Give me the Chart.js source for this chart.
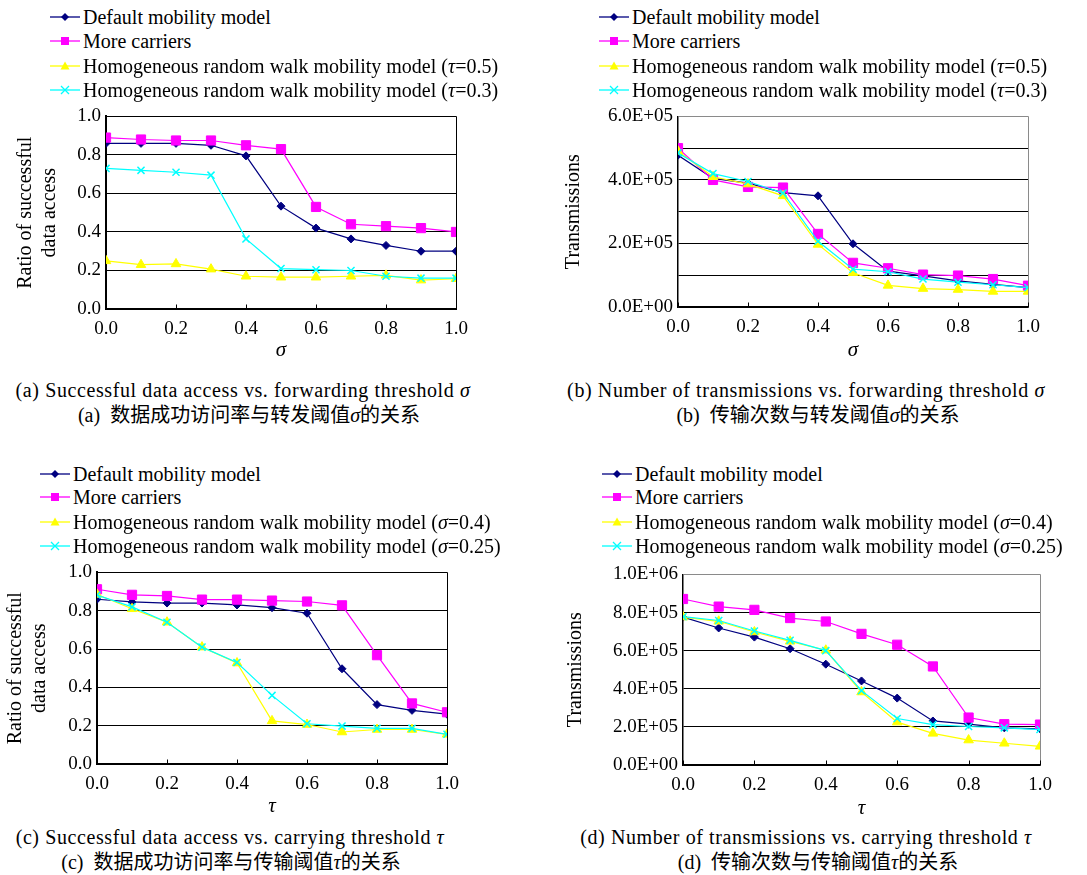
<!DOCTYPE html>
<html lang="en">
<head>
    <meta charset="UTF-8">
    <title>Forwarding and carrying thresholds</title>
    <script src="https://cdn.jsdelivr.net/npm/chart.js"></script>
    <style>
        body { margin: 0; background: #fff; font-family: "Liberation Serif", "Noto Sans CJK SC", serif; color: #000; }
        #page { position: relative; width: 1087px; height: 875px; overflow: hidden; }
        .box { position: absolute; }
        .legend-row { position: absolute; height: 24px; line-height: 24px; font-size: 20px; white-space: nowrap; display: flex; align-items: center; }
        .legend-row svg { margin-right: 3px; }
        .cap { position: absolute; font-size: 20px; letter-spacing: 0.6px; white-space: nowrap; transform: translateX(-50%); line-height: 22px; }
        .cap.zh { font-size: 20px; letter-spacing: 0; }
        i.g { font-family: "Liberation Serif", serif; }
    </style>
</head>
<body>
<div id="page">
    <div class="box" style="left:0;top:100px;width:480px;height:265px"><canvas id="chartA"></canvas></div>
    <div class="box" style="left:545px;top:100px;width:542px;height:265px"><canvas id="chartB"></canvas></div>
    <div class="box" style="left:0;top:556px;width:480px;height:265px"><canvas id="chartC"></canvas></div>
    <div class="box" style="left:545px;top:558px;width:542px;height:265px"><canvas id="chartD"></canvas></div>

    <div class="cap" style="left:243px;top:379px">(a) Successful data access vs. forwarding threshold <i class="g">σ</i></div>
    <div class="cap zh" style="left:249px;top:404px">(a)&nbsp; 数据成功访问率与转发阈值<i class="g">σ</i>的关系</div>
    <div class="cap" style="left:806px;top:379px">(b) Number of transmissions vs. forwarding threshold <i class="g">σ</i></div>
    <div class="cap zh" style="left:818px;top:404px">(b)&nbsp; 传输次数与转发阈值<i class="g">σ</i>的关系</div>
    <div class="cap" style="left:230px;top:826px">(c) Successful data access vs. carrying threshold <i class="g">τ</i></div>
    <div class="cap zh" style="left:231px;top:851px">(c)&nbsp; 数据成功访问率与传输阈值<i class="g">τ</i>的关系</div>
    <div class="cap" style="left:806px;top:826px">(d) Number of transmissions vs. carrying threshold <i class="g">τ</i></div>
    <div class="cap zh" style="left:818px;top:851px">(d)&nbsp; 传输次数与传输阈值<i class="g">τ</i>的关系</div>
</div>
<script>
    // --- data ---
    const xValues = [0.0, 0.1, 0.2, 0.3, 0.4, 0.5, 0.6, 0.7, 0.8, 0.9, 1.0];

    const seriesNames = ['Default mobility model', 'More carriers', 'Homogeneous random walk mobility model', 'Homogeneous random walk mobility model'];
    const paramsAB = ['τ=0.5', 'τ=0.3'];
    const paramsCD = ['σ=0.4', 'σ=0.25'];

    // (a) ratio of successful data access vs sigma
    const aDefault = [0.86, 0.86, 0.86, 0.85, 0.795, 0.534, 0.42, 0.364, 0.33, 0.30, 0.30];
    const aMore    = [0.89, 0.88, 0.875, 0.875, 0.85, 0.83, 0.53, 0.44, 0.43, 0.42, 0.40];
    const aHomo1   = [0.25, 0.23, 0.234, 0.207, 0.17, 0.165, 0.165, 0.17, 0.175, 0.15, 0.157];
    const aHomo2   = [0.73, 0.72, 0.71, 0.695, 0.364, 0.21, 0.204, 0.20, 0.17, 0.16, 0.16];

    // (b) transmissions vs sigma
    const bDefault = [478000, 405000, 390000, 360000, 350000, 199000, 113000, 98000, 82000, 71000, 61000];
    const bMore    = [500000, 400000, 378000, 376000, 230000, 139000, 122000, 102000, 99000, 88000, 67000];
    const bHomo1   = [490000, 410000, 387000, 350000, 197000, 108000, 68000, 58000, 55000, 49000, 49000];
    const bHomo2   = [485000, 420000, 395000, 359000, 207000, 119000, 111000, 88000, 78000, 70000, 61000];

    // (c) ratio of successful data access vs tau
    const cDefault = [0.86, 0.846, 0.84, 0.84, 0.83, 0.816, 0.787, 0.497, 0.31, 0.28, 0.26];
    const cMore    = [0.912, 0.883, 0.877, 0.858, 0.858, 0.853, 0.848, 0.828, 0.568, 0.316, 0.27];
    const cHomo1   = [0.885, 0.81, 0.74, 0.61, 0.527, 0.225, 0.206, 0.167, 0.18, 0.18, 0.155];
    const cHomo2   = [0.882, 0.82, 0.74, 0.61, 0.53, 0.358, 0.21, 0.198, 0.186, 0.186, 0.155];

    // (d) transmissions vs tau
    const dDefault = [776000, 719000, 671000, 610000, 529000, 441000, 351000, 231000, 214000, 195000, 190000];
    const dMore    = [871000, 831000, 814000, 771000, 753000, 688000, 631000, 517000, 249000, 214000, 212000];
    const dHomo1   = [776000, 754000, 698000, 649000, 602000, 383000, 225000, 166000, 131000, 114000, 98000];
    const dHomo2   = [778000, 758000, 703000, 654000, 600000, 390000, 244000, 212000, 202000, 195000, 186000];

    // --- styles ---
    const colors = ['#000080', '#ff00ff', '#ffff00', '#00ffff'];
    const markers = ['rectRot', 'rect', 'triangle', 'crossRot'];
    const radii = [4, 6.5, 5.5, 5];

    function sci(v) {
        if (v === 0) return '0.0E+00';
        const e = Math.floor(Math.log10(v) + 1e-9);
        const m = v / Math.pow(10, e);
        return m.toFixed(1) + 'E+' + String(e).padStart(2, '0');
    }

    // top + right frame of the plot area, plus small inward ticks on the x axis
    const framePlugin = {
        id: 'frame',
        beforeDatasetsDraw(chart, args, opts) {
            const a = chart.chartArea, ctx = chart.ctx;
            const l = Math.round(a.left) + 0.5, r = Math.round(a.right) + 0.5;
            const t = Math.round(a.top) + 0.5, b = Math.round(a.bottom) + 0.5;
            ctx.save();
            ctx.strokeStyle = opts.color || '#000';
            ctx.lineWidth = 1;
            ctx.beginPath();
            ctx.moveTo(l, t); ctx.lineTo(r, t); ctx.lineTo(r, b);
            ctx.stroke();
            const xs = chart.scales.x;
            ctx.strokeStyle = '#000';
            ctx.beginPath();
            xs.ticks.forEach(tk => {
                const px = Math.round(xs.getPixelForValue(tk.value)) + 0.5;
                ctx.moveTo(px, b); ctx.lineTo(px, b - 5);
            });
            ctx.stroke();
            ctx.restore();
        }
    };

    function makeDatasets(list) {
        return list.map((vals, i) => ({
            label: seriesNames[i],
            data: vals.map((v, k) => ({ x: xValues[k], y: v })),
            borderColor: colors[i],
            backgroundColor: colors[i],
            borderWidth: 1.2,
            pointStyle: markers[i],
            pointRadius: radii[i],
            pointBorderWidth: i === 3 ? 1.5 : 1,
            tension: 0,
            order: 3 - i
        }));
    }

    function makeChart(id, cfg) {
        const font = { family: '"Liberation Serif", serif', size: 19 };
        return new Chart(document.getElementById(id), {
            type: 'line',
            data: { datasets: makeDatasets(cfg.series) },
            plugins: [framePlugin],
            options: {
                animation: false,
                responsive: true,
                maintainAspectRatio: false,
                layout: { padding: { left: 0, right: cfg.padRight, top: cfg.padTop, bottom: 0 } },
                plugins: {
                    legend: { display: false },
                    tooltip: { enabled: false },
                    frame: { color: cfg.frameColor }
                },
                scales: {
                    x: {
                        type: 'linear', min: 0, max: 1,
                        afterFit: s => { s.height = cfg.xHeight; },
                        ticks: { stepSize: 0.2, padding: 9, color: '#000', font: font,
                                 callback: v => v.toFixed(1) },
                        grid: { display: false, drawTicks: false },
                        border: { display: true, color: '#000', width: cfg.axisWidth },
                        title: { display: true, text: cfg.xTitle, color: '#000',
                                 font: { family: '"Liberation Serif", serif', size: 21, style: 'italic' },
                                 padding: { top: 0, bottom: 2 } }
                    },
                    y: {
                        min: 0, max: cfg.yMax,
                        afterFit: s => { s.width = cfg.yWidth; },
                        ticks: { stepSize: cfg.yStep, padding: 5, color: '#000', font: font,
                                 callback: cfg.yLabel },
                        grid: { color: ctx => ctx.tick && ctx.tick.value >= cfg.yMax ? cfg.frameColor : '#000',
                                lineWidth: 1, drawTicks: false },
                        border: { color: '#000', width: cfg.axisWidth },
                        title: { display: true, text: cfg.yTitle, color: '#000',
                                 font: { family: '"Liberation Serif", serif', size: 20 },
                                 padding: { top: cfg.yTitlePad, bottom: 0 } }
                    }
                }
            }
        });
    }

    makeChart('chartA', {
        series: [aDefault, aMore, aHomo1, aHomo2],
        yMax: 1, yStep: 0.2, yLabel: v => v.toFixed(1),
        yTitle: ['Ratio of successful', 'data access'], yTitlePad: 14,
        xTitle: 'σ', yWidth: 106, xHeight: 56, padTop: 11, padRight: 24, frameColor: '#000', axisWidth: 2
    });
    makeChart('chartB', {
        series: [bDefault, bMore, bHomo1, bHomo2],
        yMax: 600000, yStep: 100000,
        yLabel: v => (Math.round(v / 100000) % 2 === 0 ? sci(v) : ''),
        yTitle: 'Transmissions', yTitlePad: 17,
        xTitle: 'σ', yWidth: 133, xHeight: 58, padTop: 10, padRight: 59, frameColor: '#8a8a8a', axisWidth: 1.5
    });
    makeChart('chartC', {
        series: [cDefault, cMore, cHomo1, cHomo2],
        yMax: 1, yStep: 0.2, yLabel: v => v.toFixed(1),
        yTitle: ['Ratio of successful', 'data access'], yTitlePad: 4,
        xTitle: 'τ', yWidth: 97, xHeight: 57, padTop: 11, padRight: 33, frameColor: '#000', axisWidth: 2
    });
    makeChart('chartD', {
        series: [dDefault, dMore, dHomo1, dHomo2],
        yMax: 1000000, yStep: 200000, yLabel: v => sci(v),
        yTitle: 'Transmissions', yTitlePad: 19,
        xTitle: 'τ', yWidth: 138, xHeight: 58, padTop: 11, padRight: 47, frameColor: '#8a8a8a', axisWidth: 1.5
    });

    // --- HTML legends: line + marker glyph, then label ---
    function glyph(i) {
        const c = colors[i];
        let m = '';
        if (i === 0) m = `<polygon points="15,3 19,7 15,11 11,7" fill="${c}"/>`;
        if (i === 1) m = `<rect x="11" y="3" width="8" height="8" fill="${c}"/>`;
        if (i === 2) m = `<polygon points="15,2.5 19.5,10.5 10.5,10.5" fill="${c}"/>`;
        if (i === 3) m = `<path d="M11,3 L19,11 M19,3 L11,11" stroke="${c}" stroke-width="1.3"/>`;
        return `<svg width="30" height="14" viewBox="0 0 30 14"><line x1="0" y1="7" x2="30" y2="7" stroke="${c}" stroke-width="1.3"/>${m}</svg>`;
    }
    function legend(left, centers, params) {
        const page = document.getElementById('page');
        seriesNames.forEach((name, i) => {
            const row = document.createElement('div');
            row.className = 'legend-row';
            row.style.left = left + 'px';
            row.style.top = (centers[i] - 12) + 'px';
            let text = name;
            if (i >= 2) {
                const p = params[i - 2];
                text += ' (<i>' + p.charAt(0) + '</i>' + p.slice(1) + ')';
            }
            row.innerHTML = glyph(i) + '<span>' + text + '</span>';
            page.appendChild(row);
        });
    }
    legend(50, [17, 41, 66, 90], paramsAB);
    legend(599, [17, 41, 66, 90], paramsAB);
    legend(40, [474, 497, 522, 546], paramsCD);
    legend(602, [474, 497, 522, 546], paramsCD);
</script>
</body>
</html>
